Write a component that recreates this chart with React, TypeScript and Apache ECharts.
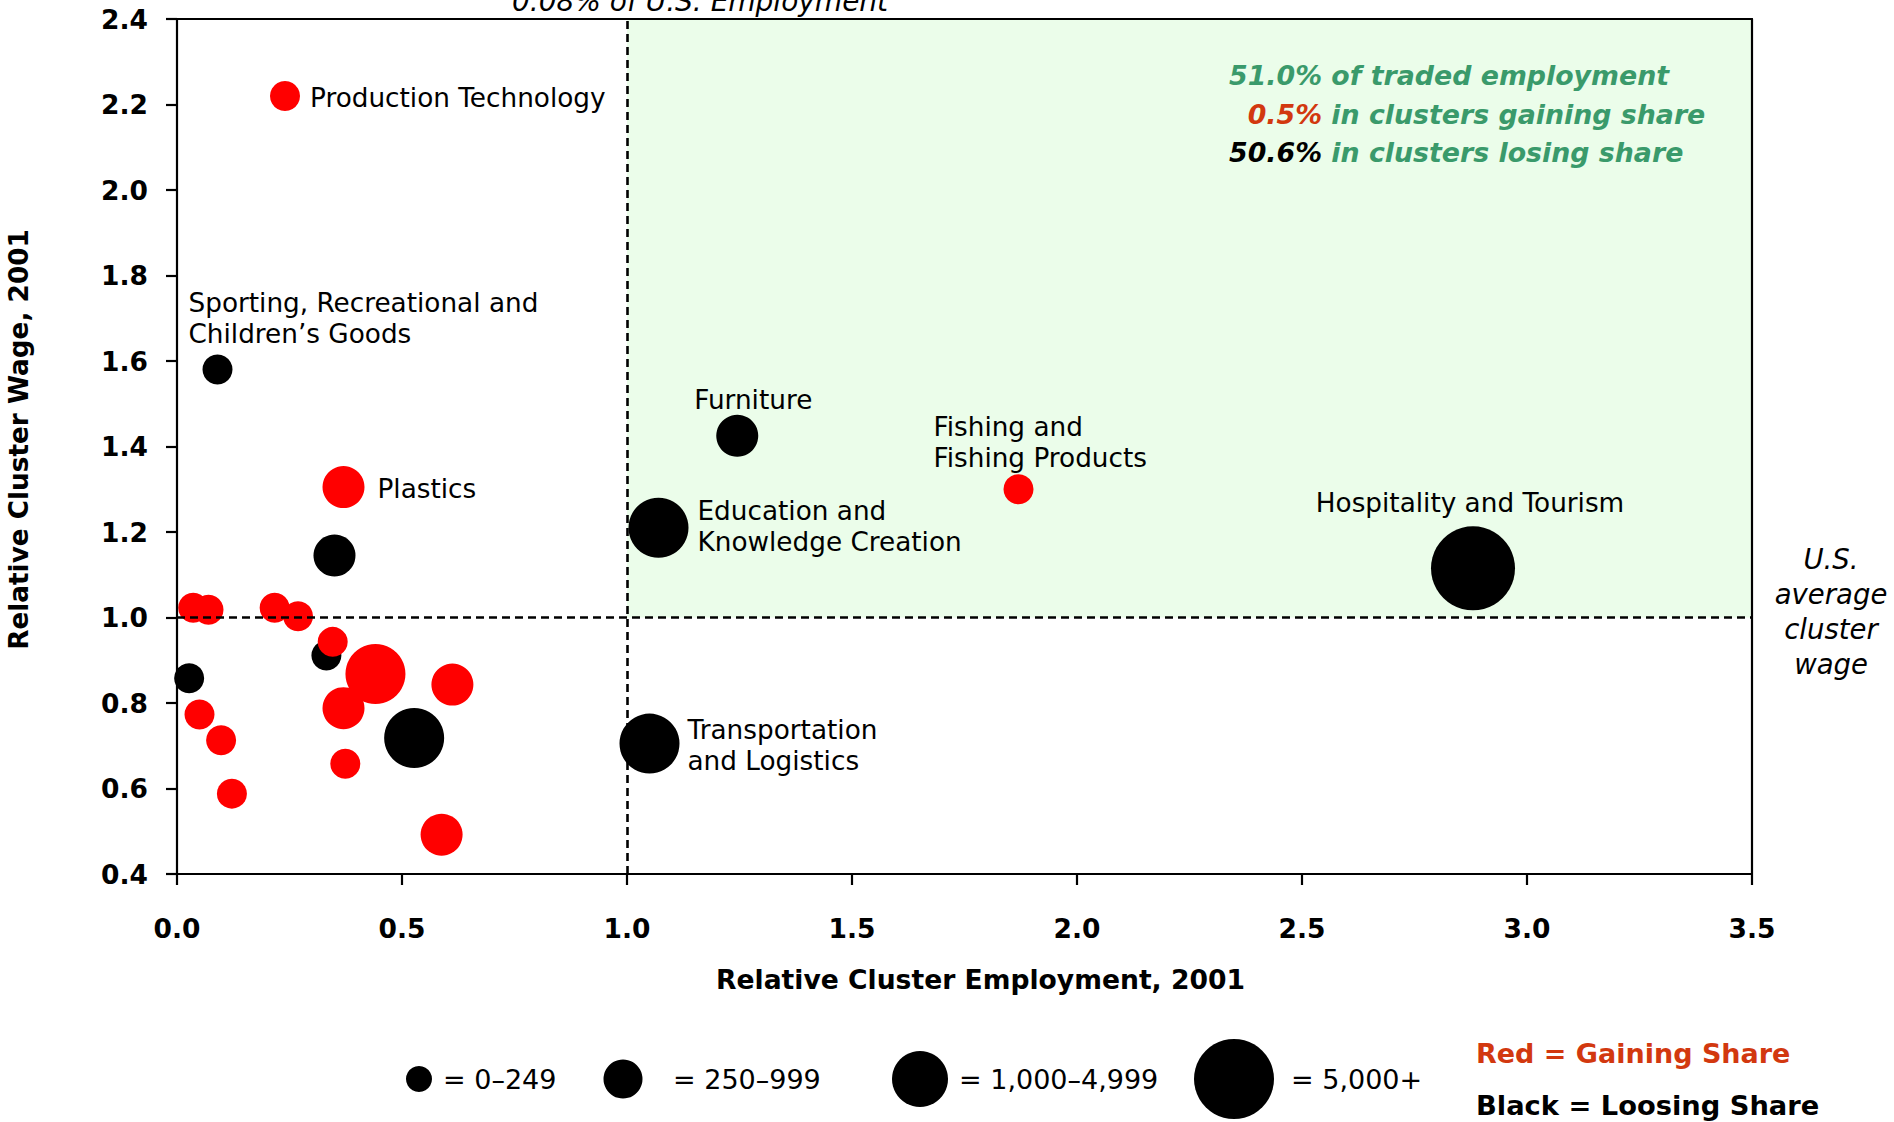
import React, { useEffect, useRef } from "react";
import * as echarts from "echarts";

// ---- Data ----
const clusterNames = [
  "Production Technology",
  "Sporting, Recreational and\nChildren’s Goods",
  "Plastics",
  "",
  "Furniture",
  "Fishing and\nFishing Products",
  "Education and\nKnowledge Creation",
  "Hospitality and Tourism",
  "Transportation\nand Logistics",
  "", "", "", "", "", "", "", "", "", "", "", "", "", "", "", "",
];
const relEmployment = [
  0.24, 0.09, 0.37, 0.35, 1.245, 1.87, 1.07, 2.88, 1.05,
  0.036, 0.07, 0.217, 0.269, 0.332, 0.346, 0.441, 0.612, 0.027, 0.05, 0.37, 0.527, 0.098, 0.374, 0.122, 0.588,
];
const relWage = [
  2.22, 1.58, 1.305, 1.145, 1.425, 1.3, 1.21, 1.115, 0.705,
  1.023, 1.018, 1.023, 1.003, 0.911, 0.943, 0.868, 0.843, 0.858, 0.773, 0.788, 0.718, 0.713, 0.658, 0.588, 0.492,
];
// employment band: 0 = 0–249, 1 = 250–999, 2 = 1,000–4,999, 3 = 5,000+
const employmentBand = [
  0, 0, 1, 1, 1, 0, 2, 3, 2,
  0, 0, 0, 0, 0, 0, 2, 1, 0, 0, 1, 2, 0, 0, 0, 1,
];
const gainingShare = [
  true, false, true, false, false, true, false, false, false,
  true, true, true, true, false, true, true, true, false, true, true, false, true, true, true, true,
];
const bandLabels = ["= 0–249", "= 250–999", "= 1,000–4,999", "= 5,000+"];
const xTicks = [0, 0.5, 1, 1.5, 2, 2.5, 3, 3.5];
const yTicks = [0.4, 0.6, 0.8, 1.0, 1.2, 1.4, 1.6, 1.8, 2.0, 2.2, 2.4];
const summaryNumbers = ["51.0%", "0.5%", "50.6%"];
const summaryTexts = [" of traded employment", " in clusters gaining share", " in clusters losing share"];

// ---- Styling / layout ----
const FONT = '"DejaVu Sans", "Liberation Sans", Arial, sans-serif';
const RED = "#FF0000";
const ORANGE = "#D2380F";
const GREEN = "#3A9A6B";
const bandSizes = [30, 42, 60, 84];
const labelLayout: Record<string, { dx: number; dy: number; align: string }> = {
  "Production Technology": { dx: 25, dy: 2, align: "left" },
  "Sporting, Recreational and\nChildren’s Goods": { dx: -29, dy: -51, align: "left" },
  Plastics: { dx: 34, dy: 2, align: "left" },
  Furniture: { dx: -43, dy: -36, align: "left" },
  "Fishing and\nFishing Products": { dx: -85, dy: -47, align: "left" },
  "Education and\nKnowledge Creation": { dx: 39, dy: -1, align: "left" },
  "Hospitality and Tourism": { dx: -3, dy: -65, align: "center" },
  "Transportation\nand Logistics": { dx: 38, dy: 2, align: "left" },
};

function buildItems(gain: boolean) {
  const items: any[] = [];
  relEmployment.forEach((x, i) => {
    if (gainingShare[i] !== gain) return;
    const name = clusterNames[i];
    const lay = labelLayout[name];
    items.push({
      name,
      value: [x, relWage[i], employmentBand[i]],
      label: lay
        ? {
            show: true,
            formatter: name,
            position: "inside",
            align: lay.align,
            verticalAlign: "middle",
            offset: [lay.dx, lay.dy],
            color: "#000",
            fontFamily: FONT,
            fontSize: 26.3,
            lineHeight: 31,
          }
        : { show: false },
    });
  });
  return items;
}

export default function App() {
  const ref = useRef<HTMLDivElement>(null);
  useEffect(() => {
    document.body.style.margin = "0";
    if (!ref.current) return;
    const chart = echarts.init(ref.current, undefined, { renderer: "svg" });

    const gridLeft = 177, gridTop = 19, gridRight = 142, gridBottom = 248;

    const legendX = [419, 623, 920, 1234];
    const legendR = [13, 19.5, 28, 40];
    const legendTextX = [443, 673, 959, 1291];
    const legendY = 1079;

    const graphic: any[] = [
      {
        type: "text",
        x: 700,
        y: 1,
        style: { text: "0.08% of U.S. Employment", font: `italic 28px ${FONT}`, fill: "#000", align: "center", verticalAlign: "middle" },
      },
      {
        type: "text",
        x: 1831,
        y: 611,
        style: {
          text: "U.S.\naverage\ncluster\nwage",
          font: `italic 27.5px ${FONT}`,
          lineHeight: 35,
          fill: "#000",
          align: "center",
          verticalAlign: "middle",
        },
      },
      {
        type: "text",
        x: 1476,
        y: 1053,
        style: { text: "Red = Gaining Share", font: `bold 27px ${FONT}`, fill: ORANGE, align: "left", verticalAlign: "middle" },
      },
      {
        type: "text",
        x: 1476,
        y: 1105,
        style: { text: "Black = Loosing Share", font: `bold 27.3px ${FONT}`, fill: "#000", align: "left", verticalAlign: "middle" },
      },
    ];
    const summaryY = [75, 114, 152];
    summaryNumbers.forEach((n, i) => {
      graphic.push({
        type: "text",
        x: 1322,
        y: summaryY[i],
        z: 10,
        style: {
          text: n,
          font: `italic bold 26.8px ${FONT}`,
          fill: i === 0 ? GREEN : i === 1 ? ORANGE : "#000",
          align: "right",
          verticalAlign: "middle",
        },
      });
      graphic.push({
        type: "text",
        x: 1322,
        y: summaryY[i],
        z: 10,
        style: { text: summaryTexts[i], font: `italic bold 26.8px ${FONT}`, fill: GREEN, align: "left", verticalAlign: "middle" },
      });
    });
    bandLabels.forEach((t, i) => {
      graphic.push({ type: "circle", shape: { cx: legendX[i], cy: legendY, r: legendR[i] }, style: { fill: "#000" } });
      graphic.push({
        type: "text",
        x: legendTextX[i],
        y: legendY,
        style: { text: t, font: `27px ${FONT}`, fill: "#000", align: "left", verticalAlign: "middle" },
      });
    });

    const axisCommon = {
      axisLine: { show: true, onZero: false, lineStyle: { color: "#000", width: 2.2 } },
      axisTick: { show: true, inside: false, length: 11, lineStyle: { color: "#000", width: 2.2 } },
      splitLine: { show: false },
    };

    chart.setOption({
      animation: false,
      backgroundColor: "#fff",
      grid: {
        left: gridLeft,
        top: gridTop,
        right: gridRight,
        bottom: gridBottom,
        containLabel: false,
        outerBoundsMode: "none",
      },
      xAxis: [
        {
          type: "value",
          min: xTicks[0],
          max: xTicks[xTicks.length - 1],
          interval: 0.5,
          ...axisCommon,
          z: 5,
          axisLabel: {
            margin: 41,
            color: "#000",
            fontFamily: FONT,
            fontWeight: "bold",
            fontSize: 26.5,
            formatter: (v: number) => v.toFixed(1),
          },
          name: "Relative Cluster Employment, 2001",
          nameLocation: "middle",
          nameGap: 92,
          nameTextStyle: { color: "#000", fontFamily: FONT, fontWeight: "bold", fontSize: 26.6, padding: [0, 0, 0, 32] },
        },
        {
          type: "value",
          position: "top",
          min: xTicks[0],
          max: xTicks[xTicks.length - 1],
          interval: 0.5,
          z: 5,
          axisLine: { show: true, onZero: false, lineStyle: { color: "#000", width: 2.2 } },
          axisTick: { show: false },
          axisLabel: { show: false },
          splitLine: { show: false },
        },
      ],
      yAxis: [
        {
          type: "value",
          min: yTicks[0],
          max: yTicks[yTicks.length - 1],
          interval: 0.2,
          ...axisCommon,
          z: 5,
          axisLabel: {
            margin: 29,
            color: "#000",
            fontFamily: FONT,
            fontWeight: "bold",
            fontSize: 26.5,
            formatter: (v: number) => v.toFixed(1),
          },
          name: "Relative Cluster Wage, 2001",
          nameLocation: "middle",
          nameGap: 145,
          nameTextStyle: { color: "#000", fontFamily: FONT, fontWeight: "bold", fontSize: 26.3, padding: [0, 0, 0, 14] },
        },
        {
          type: "value",
          position: "right",
          min: yTicks[0],
          max: yTicks[yTicks.length - 1],
          interval: 0.2,
          z: 5,
          axisLine: { show: true, onZero: false, lineStyle: { color: "#000", width: 2.2 } },
          axisTick: { show: false },
          axisLabel: { show: false },
          splitLine: { show: false },
        },
      ],
      series: [
        {
          type: "scatter",
          data: [],
          z: 1,
          silent: true,
          markArea: {
            silent: true,
            itemStyle: { color: "#EBFDEA" },
            data: [[{ coord: [1, 1] }, { coord: [3.5, 2.4] }]],
          },
          markLine: {
            silent: true,
            symbol: "none",
            label: { show: false },
            lineStyle: { color: "#000", width: 2.6, type: [8, 5] },
            data: [{ xAxis: 1 }, { yAxis: 1 }],
          },
        },
        {
          type: "scatter",
          name: "Losing share",
          z: 3,
          symbol: "circle",
          symbolSize: (v: number[]) => bandSizes[v[2]],
          itemStyle: { color: "#000", opacity: 1 },
          data: buildItems(false),
        },
        {
          type: "scatter",
          name: "Gaining share",
          z: 4,
          symbol: "circle",
          symbolSize: (v: number[]) => bandSizes[v[2]],
          itemStyle: { color: RED, opacity: 1 },
          data: buildItems(true),
        },
      ],
      graphic,
    });
    return () => chart.dispose();
  }, []);
  return <div ref={ref} style={{ width: 1894, height: 1122 }} />;
}
